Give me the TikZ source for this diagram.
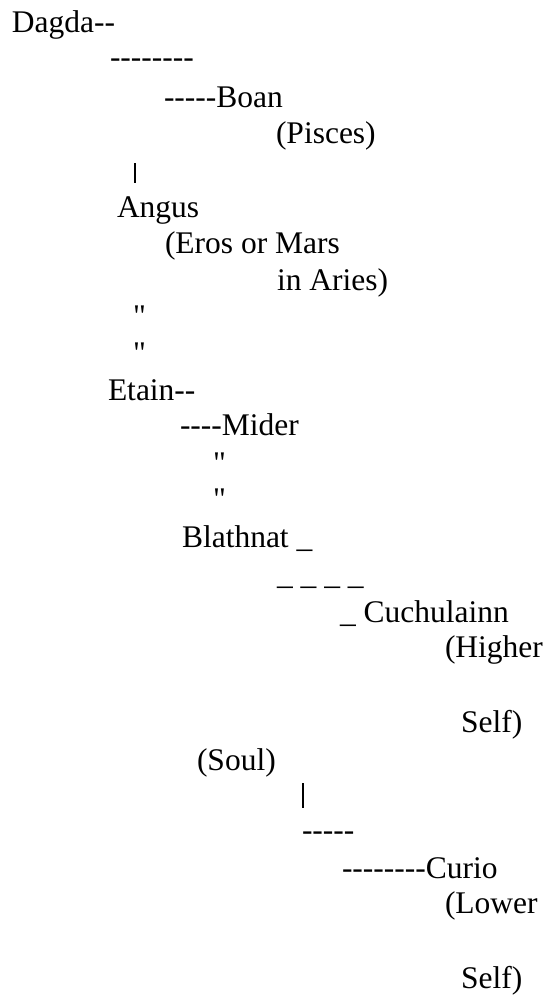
\documentclass[tikz,border=0pt]{standalone}
\usepackage{fontspec}
\setmainfont{Liberation Serif}[Ligatures=TeXOff]
\begin{document}
\begin{tikzpicture}[x=1pt,y=-1pt,
  txt/.style={anchor=base west,inner sep=0pt,outer sep=0pt,font=\fontsize{31.5}{37}\selectfont},
  bar/.style={line width=1.2pt,black}]
\useasboundingbox (0,0) rectangle (547,996);
\node[txt] (dagda) at (12,32) {Dagda--};
\node[txt] (dash1) at (110,67) {--------};
\node[txt] (boan) at (164,107) {-----Boan};
\node[txt] (pisces) at (276,143) {(Pisces)};
\coordinate (b1top) at (135,163);
\coordinate (b1bot) at (135,183);
\draw[bar] (b1top) -- (b1bot);
\node[txt] (angus) at (117,217) {Angus};
\node[txt] (eros) at (165,253) {(Eros or Mars};
\node[txt] (aries) at (277,290) {in Aries)};
\node[txt] (q1) at (133,326) {"};
\node[txt] (q2) at (133,363) {"};
\node[txt] (etain) at (108,400) {Etain--};
\node[txt] (mider) at (180,435) {----Mider};
\node[txt] (q3) at (213,473) {"};
\node[txt] (q4) at (213,509) {"};
\node[txt] (blath) at (182,547) {Blathnat \_};
\node[txt] (unders) at (277,584) {\_ \_ \_ \_};
\node[txt] (cuch) at (340,622) {\_ Cuchulainn};
\node[txt] (higher) at (445,657) {(Higher};
\node[txt] (self1) at (461,732) {Self)};
\node[txt] (soul) at (197,770) {(Soul)};
\coordinate (b2top) at (303,783);
\coordinate (b2bot) at (303,808);
\draw[bar] (b2top) -- (b2bot);
\node[txt] (dash2) at (302,840) {-----};
\node[txt] (curio) at (342,878) {--------Curio};
\node[txt] (lower) at (445,913) {(Lower};
\node[txt] (self2) at (461,988) {Self)};
\end{tikzpicture}
\end{document}
